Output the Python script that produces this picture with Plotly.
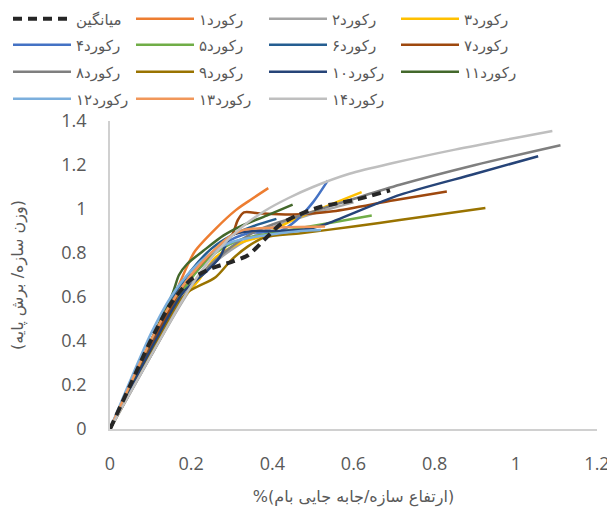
import plotly.graph_objects as go

names = ["میانگین", "رکورد۱", "رکورد۲", "رکورد۳", "رکورد۴", "رکورد۵", "رکورد۶", "رکورد۷",
         "رکورد۸", "رکورد۹", "رکورد۱۰", "رکورد۱۱", "رکورد۱۲", "رکورد۱۳", "رکورد۱۴"]
colors = ["#262626", "#ED7D31", "#A5A5A5", "#FFC000", "#4472C4", "#70AD47", "#255E91", "#9E480E",
          "#7F7F7F", "#997300", "#264478", "#43682B", "#7CAFDD", "#F1975A", "#BFBFBF"]

mean_x = [0, 0.05, 0.1, 0.15, 0.2, 0.25, 0.3, 0.34, 0.38, 0.42, 0.46, 0.52, 0.6, 0.69]
mean_y = [0, 0.2, 0.4, 0.57, 0.68, 0.73, 0.76, 0.79, 0.86, 0.93, 0.97, 1.01, 1.04, 1.085]
r1_x = [0, 0.05, 0.1, 0.15, 0.19, 0.21, 0.26, 0.31, 0.345, 0.39]
r1_y = [0, 0.19, 0.38, 0.57, 0.74, 0.81, 0.91, 0.995, 1.04, 1.095]
r2_x = [0, 0.1, 0.2, 0.26, 0.32, 0.38, 0.45, 0.52, 0.6]
r2_y = [0, 0.33, 0.64, 0.76, 0.84, 0.9, 0.95, 0.99, 1.03]
r3_x = [0, 0.1, 0.16, 0.22, 0.26, 0.32, 0.38, 0.44, 0.51, 0.62]
r3_y = [0, 0.36, 0.55, 0.68, 0.78, 0.845, 0.88, 0.94, 0.995, 1.077]
r4_x = [0, 0.1, 0.16, 0.22, 0.28, 0.34, 0.42, 0.46, 0.5, 0.537]
r4_y = [0, 0.38, 0.6, 0.73, 0.84, 0.89, 0.9, 0.95, 1.03, 1.13]
r5_x = [0, 0.1, 0.17, 0.22, 0.26, 0.32, 0.4, 0.52, 0.645]
r5_y = [0, 0.36, 0.6, 0.73, 0.8, 0.86, 0.89, 0.93, 0.97]
r6_x = [0, 0.08, 0.15, 0.2, 0.25, 0.3, 0.35, 0.41]
r6_y = [0, 0.32, 0.58, 0.72, 0.82, 0.88, 0.92, 0.955]
r7_x = [0, 0.1, 0.18, 0.25, 0.3, 0.315, 0.33, 0.37, 0.45, 0.55, 0.7, 0.83]
r7_y = [0, 0.37, 0.65, 0.8, 0.88, 0.95, 0.985, 0.98, 0.975, 0.99, 1.04, 1.08]
r8_x = [0, 0.1, 0.2, 0.28, 0.36, 0.468, 0.59, 0.714, 0.9, 1.11]
r8_y = [0, 0.33, 0.65, 0.8, 0.9, 0.97, 1.04, 1.11, 1.2, 1.29]
r9_x = [0, 0.1, 0.16, 0.19, 0.26, 0.3, 0.34, 0.38, 0.47, 0.6, 0.714, 0.925]
r9_y = [0, 0.34, 0.55, 0.62, 0.69, 0.77, 0.83, 0.87, 0.89, 0.92, 0.95, 1.005]
r10_x = [0, 0.1, 0.18, 0.24, 0.27, 0.3, 0.35, 0.42, 0.49, 0.53, 0.714, 0.9, 1.055]
r10_y = [0, 0.36, 0.62, 0.72, 0.78, 0.88, 0.9, 0.9, 0.91, 0.93, 1.064, 1.16, 1.24]
r11_x = [0, 0.08, 0.155, 0.17, 0.19, 0.23, 0.28, 0.32, 0.386, 0.45]
r11_y = [0, 0.32, 0.62, 0.7, 0.75, 0.81, 0.88, 0.92, 0.97, 1.02]
r12_x = [0, 0.05, 0.1, 0.15, 0.2, 0.25, 0.3, 0.38, 0.47, 0.52]
r12_y = [0, 0.22, 0.43, 0.6, 0.72, 0.8, 0.85, 0.88, 0.9, 0.905]
r13_x = [0, 0.1, 0.15, 0.2, 0.26, 0.3, 0.33, 0.4, 0.53]
r13_y = [0, 0.4, 0.57, 0.7, 0.82, 0.88, 0.905, 0.915, 0.92]
r14_x = [0, 0.1, 0.2, 0.26, 0.32, 0.38, 0.44, 0.5, 0.59, 0.7, 0.85, 1.09]
r14_y = [0, 0.33, 0.65, 0.8, 0.91, 0.99, 1.05, 1.1, 1.16, 1.21, 1.27, 1.355]

xs = [mean_x, r1_x, r2_x, r3_x, r4_x, r5_x, r6_x, r7_x, r8_x, r9_x, r10_x, r11_x, r12_x, r13_x, r14_x]
ys = [mean_y, r1_y, r2_y, r3_y, r4_y, r5_y, r6_y, r7_y, r8_y, r9_y, r10_y, r11_y, r12_y, r13_y, r14_y]

x_title = "%(ارتفاع سازه/جابه جایی بام)"
y_title = "(وزن سازه/ برش پایه)"

W, H = 607, 512  # page body adds an 8px margin

def lid(i):
    return "legend" if i == 0 else "legend%d" % (i + 1)

fig = go.Figure()
order = list(range(1, 15)) + [0]
for i in order:
    line = dict(color=colors[i], width=2.5, shape="spline", smoothing=0.8)
    if i == 0:
        line.update(width=4, dash="9px,6px")
    fig.add_trace(go.Scatter(x=xs[i], y=ys[i], mode="lines", name=names[i], line=line,
                             legend=lid(i)))

row_centers = [11, 37, 64, 91]
col_starts = [0, 123, 256, 388]
legend_common = dict(orientation="h", xref="container", yref="container", xanchor="left",
                     yanchor="middle", itemwidth=58,
                     font=dict(size=15, color="#595959", family="Noto Sans, DejaVu Sans, sans-serif"),
                     bgcolor="rgba(0,0,0,0)")
legends = {}
for i in range(15):
    r, c = divmod(i, 4)
    legends[lid(i)] = dict(legend_common, x=col_starts[c] / W, y=1 - row_centers[r] / H)

fig.update_layout(
    width=W, height=H,
    margin=dict(l=102, r=18, t=113, b=91, autoexpand=False),
    paper_bgcolor="white", plot_bgcolor="white",
    font=dict(family="DejaVu Sans, sans-serif", color="#595959", size=16),
    showlegend=True,
    xaxis=dict(range=[0, 1.2], dtick=0.2, showgrid=False, zeroline=False, showline=True,
               linecolor="#D0D0D0", linewidth=1.5, ticks="", ticklabelstandoff=18,
               tickfont=dict(size=18, color="#595959", family="Open Sans, sans-serif"),
               title=dict(text=x_title, font=dict(size=16, color="#595959"), standoff=16)),
    yaxis=dict(range=[0, 1.4], dtick=0.2, showgrid=False, zeroline=False, showline=True,
               linecolor="#D0D0D0", linewidth=1.5, ticks="", ticklabelstandoff=18,
               tickfont=dict(size=18, color="#595959", family="Open Sans, sans-serif"),
               title=dict(text=y_title, font=dict(size=16, color="#595959"), standoff=36)),
    **legends,
)
fig.write_html("out.html")
